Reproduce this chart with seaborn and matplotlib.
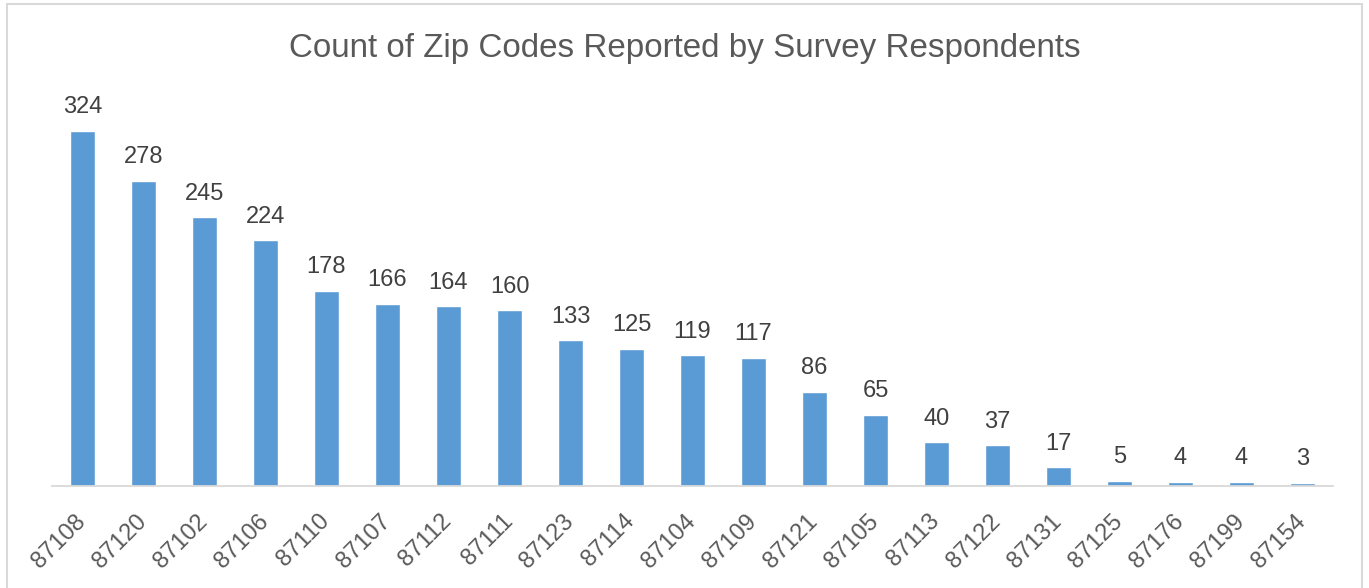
import matplotlib
matplotlib.use("Agg")
import matplotlib.pyplot as plt
import seaborn as sns
import pandas as pd
from matplotlib.patches import Rectangle

zip_codes = ["87108", "87120", "87102", "87106", "87110", "87107", "87112",
             "87111", "87123", "87114", "87104", "87109", "87121", "87105",
             "87113", "87122", "87131", "87125", "87176", "87199", "87154"]
counts = [324, 278, 245, 224, 178, 166, 164, 160, 133, 125, 119, 117, 86,
          65, 40, 37, 17, 5, 4, 4, 3]
title = "Count of Zip Codes Reported by Survey Respondents"

sns.set_style("white")
plt.rcParams['font.family'] = ['Liberation Sans', 'DejaVu Sans']

df = pd.DataFrame({"zip": zip_codes, "count": counts})

fig = plt.figure(figsize=(13.69, 5.88), dpi=100)
ax = fig.add_axes([52 / 1369, 1 - 486 / 588, 1281 / 1369, (486 - 102) / 588])

sns.barplot(data=df, x="zip", y="count", order=zip_codes, color="#5B9BD5",
            saturation=1, width=0.41, ax=ax)

ax.set_xlim(-0.5, len(zip_codes) - 0.5)
ax.set_ylim(0, 350)
ax.set_xlabel("")
ax.set_ylabel("")
ax.set_yticks([])
for s in ["top", "right", "left"]:
    ax.spines[s].set_visible(False)
ax.spines["bottom"].set_color("#D9D9D9")
ax.spines["bottom"].set_linewidth(1.3)

ax.tick_params(axis="x", length=0, pad=23, labelsize=17, labelcolor="#595959")
for lbl in ax.get_xticklabels():
    lbl.set_rotation(45)
    lbl.set_ha("right")
    lbl.set_va("center")
    lbl.set_rotation_mode("anchor")

ax.bar_label(ax.containers[0], labels=[str(v) for v in counts], padding=9,
             fontsize=17, color="#404040")

fig.text(0.5, 1 - 48 / 588, title, ha="center", va="center", fontsize=23.9,
         color="#595959")

fig.patches.append(Rectangle((6.5 / 1369, -0.02), (1362 - 6.5) / 1369,
                             1.02 - 3.5 / 588, transform=fig.transFigure,
                             fill=False, edgecolor="#D9D9D9", linewidth=1.5,
                             figure=fig))

fig.savefig("out.png", dpi=100, facecolor="white")
